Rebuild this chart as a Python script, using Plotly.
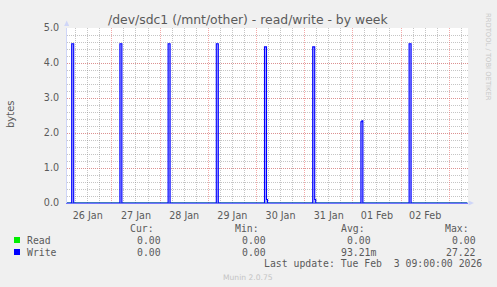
import plotly.graph_objects as go
import pandas as pd

# ---------------- data ----------------
title_text = "/dev/sdc1 (/mnt/other) - read/write - by week"
y_label = "bytes"
x_start = "2026-01-26 01:40"
x_end = "2026-02-03 09:20"
sample_start = "2026-01-26 01:30"
sample_end = "2026-02-03 09:00"

spike_days = ["2026-01-26", "2026-01-27", "2026-01-28", "2026-01-29",
              "2026-01-30", "2026-01-31", "2026-02-01", "2026-02-02"]
spike_clock = "04:00"
spike_first = [4.55, 4.55, 4.55, 4.55, 4.46, 4.46, 2.32, 4.55]
spike_second = [4.55, 4.55, 4.55, 4.55, 4.46, 4.46, 2.35, 4.55]
spike_tail = [0.0, 0.0, 0.0, 0.0, 0.10, 0.10, 0.0, 0.0]

y_ticks = [0, 1, 2, 3, 4, 5]

legend_names = ["Read", "Write"]
legend_colors = ["#00ee00", "#0000ff"]
legend_headers = ["Cur:", "Min:", "Avg:", "Max:"]
read_stats = ["0.00", "0.00", "0.00", "0.00"]
write_stats = ["0.00", "0.00", "93.21m", "27.22"]
last_update = "Last update: Tue Feb\u00a0\u00a03 09:00:00 2026"
munin_version = "Munin 2.0.75"
rrd_credit = "RRDTOOL / TOBI OETIKER"

# ---------------- series ----------------
times = pd.date_range(sample_start, sample_end, freq="30min")
write_vals = pd.Series(0.0, index=times)
read_vals = pd.Series(0.0, index=times)
for d, a, b, c in zip(spike_days, spike_first, spike_second, spike_tail):
    t0 = pd.Timestamp(f"{d} {spike_clock}")
    write_vals[t0] = a
    write_vals[t0 + pd.Timedelta("30min")] = b
    write_vals[t0 + pd.Timedelta("60min")] = c

# ---------------- layout helpers ----------------
W, H = 497, 287
L, R, T, B = 67, 468, 28, 203
def px(xp):
    return (xp - L) / (R - L)
def py(yp):
    return (B - yp) / (B - T)

SANS = "DejaVu Sans"
MONO = "DejaVu Sans Mono"
FONTC = "#5a5a5a"
AXISC = "#CFD6F8"

fig = go.Figure()
fig.add_trace(go.Scatter(x=times, y=read_vals.values, mode="lines",
                         line=dict(color=legend_colors[0], width=1.2, shape="hv"),
                         showlegend=False, hoverinfo="skip"))
fig.add_trace(go.Scatter(x=times, y=write_vals.values, mode="lines",
                         line=dict(color=legend_colors[1], width=1.1, shape="hv"),
                         fill="tozeroy", fillcolor="rgba(90,90,255,0.5)",
                         showlegend=False, hoverinfo="skip"))

major_grid = "rgba(235,110,110,0.6)"
minor_grid = "rgba(140,140,140,0.5)"

fig.update_layout(
    width=W, height=H,
    margin=dict(l=L, r=W - R, t=T, b=H - B, pad=0),
    paper_bgcolor="#F0F0F0", plot_bgcolor="#FFFFFF",
    showlegend=False,
    font=dict(family=SANS, size=9.6, color=FONTC),
    xaxis=dict(
        type="date", range=[x_start, x_end],
        tick0="2026-01-26", dtick=86400000,
        ticklabelmode="period", tickformat="%d %b",
        showgrid=True, gridcolor=major_grid, griddash="1px,1px", gridwidth=1,
        minor=dict(dtick=6 * 3600 * 1000, tick0="2026-01-26", showgrid=True,
                   gridcolor=minor_grid, griddash="1px,1px", gridwidth=1),
        ticks="outside", ticklen=3, tickcolor="rgba(0,0,0,0)",
        tickfont=dict(family=SANS, size=9.6, color=FONTC),
        showline=True, linecolor="#7272ff", linewidth=1,
        zeroline=False, fixedrange=True,
    ),
    yaxis=dict(
        range=[0, 5], tickvals=y_ticks, tickformat=".1f",
        showgrid=True, gridcolor=major_grid, griddash="1px,1px", gridwidth=1,
        minor=dict(dtick=0.2, showgrid=True, gridcolor=minor_grid,
                   griddash="1px,1px", gridwidth=1),
        ticks="outside", ticklen=5, tickcolor="rgba(0,0,0,0)",
        tickfont=dict(family=SANS, size=9.6, color=FONTC),
        showline=True, linecolor=AXISC, linewidth=1,
        zeroline=False, fixedrange=True,
    ),
)

ann = []
def text(xp, yp, s, size, font=SANS, color=FONTC, xanchor="left", angle=0):
    ann.append(dict(x=px(xp), y=py(yp), xref="paper", yref="paper", text=s,
                    showarrow=False, xanchor=xanchor, yanchor="middle",
                    textangle=angle, borderpad=0,
                    font=dict(family=font, size=size, color=color)))

text(248, 19, title_text, 12.4, xanchor="center")
text(10, 114, y_label, 10, xanchor="center", angle=-90)
text(488, 57, rrd_credit, 6.8, color="#c8c8c8", xanchor="center", angle=90)

header_right = [154.5, 260, 365.5, 470.5]
value_right = [161.5, 266.5, 371.5, 477.2]
CW = 5.9
row_y = [240, 252]
for h, xr in zip(legend_headers, header_right):
    text(xr, 228, h, 9.8, font=MONO, xanchor="right")
for r, (name, stats) in enumerate(zip(legend_names, [read_stats, write_stats])):
    text(26, row_y[r], name, 9.8, font=MONO)
    for s, xr in zip(stats, value_right):
        extra = CW if s[-1].isalpha() else 0
        text(xr + extra, row_y[r], s, 9.8, font=MONO, xanchor="right")
text(483, 263, last_update, 9.8, font=MONO, xanchor="right")
text(248, 277.5, munin_version, 7.6, color="#c4c4c4", xanchor="center")
fig.update_layout(annotations=ann)

shapes = []
for r, c in enumerate(legend_colors):
    shapes.append(dict(type="rect", xref="paper", yref="paper",
                       x0=px(14), x1=px(20), y0=py(row_y[r] + 3), y1=py(row_y[r] - 3),
                       fillcolor=c, line=dict(width=0)))
# axis arrows
shapes.append(dict(type="path", xref="paper", yref="paper",
                   path=f"M {px(64.2)},{py(26)} L {px(66.7)},{py(20.5)} L {px(69.2)},{py(26)} Z",
                   fillcolor=AXISC, line=dict(width=0)))
shapes.append(dict(type="path", xref="paper", yref="paper",
                   path=f"M {px(468.5)},{py(200.5)} L {px(474)},{py(203)} L {px(468.5)},{py(205.5)} Z",
                   fillcolor=AXISC, line=dict(width=0)))
fig.update_layout(shapes=shapes)

fig.write_html("out.html")
